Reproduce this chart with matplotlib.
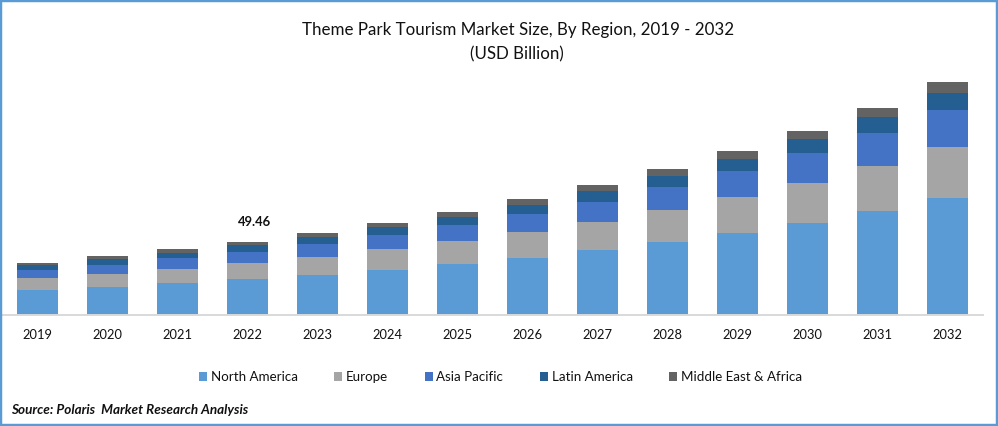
#!/usr/bin/env python3
"""Theme park tourism market size, stacked bars by region."""

import matplotlib

matplotlib.use("Agg")
import matplotlib.pyplot as plt
import numpy as np
from matplotlib.patches import Rectangle

years = ["2019", "2020", "2021", "2022", "2023", "2024", "2025",
         "2026", "2027", "2028", "2029", "2030", "2031", "2032"]
regions = ["North America", "Europe", "Asia Pacific", "Latin America", "Middle East & Africa"]

north_america = [16.94, 18.97, 21.68, 24.39, 27.10, 30.49, 34.55, 38.62, 44.04, 49.46, 55.56, 62.33, 70.46, 79.27]
europe = [8.13, 8.81, 9.49, 10.84, 12.20, 14.23, 15.58, 17.62, 18.97, 21.68, 24.39, 27.10, 30.49, 34.55]
asia_pacific = [5.42, 6.10, 7.45, 7.45, 8.81, 9.49, 10.84, 12.20, 13.55, 15.58, 17.62, 20.33, 22.36, 25.07]
latin_america = [3.39, 4.07, 3.39, 4.74, 4.74, 5.42, 5.42, 6.10, 7.45, 7.45, 8.13, 9.49, 10.84, 11.52]
middle_east_africa = [1.36, 2.03, 2.71, 2.04, 2.71, 2.71, 3.39, 4.07, 4.07, 4.74, 5.42, 5.42, 6.10, 7.45]

series = [north_america, europe, asia_pacific, latin_america, middle_east_africa]
colors = ["#5B9BD5", "#A5A5A5", "#4472C4", "#255E91", "#636363"]

W, H = 998, 426
plt.rcParams["font.family"] = ["Lato", "DejaVu Sans"]

fig = plt.figure(figsize=(W / 100, H / 100), dpi=100)
ax = fig.add_axes([2.5 / W, 1 - 315 / H, 980 / W, 245 / H])

x = np.arange(len(years))
bottom = np.zeros(len(years))
for values, color, label in zip(series, colors, regions):
    ax.bar(x, values, 0.586, bottom=bottom, color=color, label=label, linewidth=0)
    bottom += np.array(values)

ax.set_xlim(-0.5, len(years) - 0.5)
ax.set_ylim(0, 245 * 49.46 / 73)
ax.set_xticks(x, years)
ax.tick_params(axis="x", length=0, pad=10, labelsize=9.3, colors="#111111")
ax.set_yticks([])
for side in ["top", "left", "right"]:
    ax.spines[side].set_visible(False)
ax.spines["bottom"].set_color("#D9D9D9")
ax.spines["bottom"].set_linewidth(1.4)

ax.text(3.1, bottom[3] + 13.5, "49.46", ha="center", va="center",
        fontsize=9.4, fontweight="bold", color="#111111")

fig.text(518 / W, 1 - 30 / H, "Theme Park Tourism Market Size, By Region, 2019 - 2032",
         ha="center", va="center", fontsize=12.15, color="#111111")
fig.text(517 / W, 1 - 54 / H, "(USD Billion)", ha="center", va="center",
         fontsize=12.15, color="#111111")
fig.text(11 / W, 1 - 410 / H, "Source: Polaris  Market Research Analysis", ha="left", va="center",
         fontsize=9.75, fontweight="bold", style="italic", color="#111111")

fig.legend(loc="center", bbox_to_anchor=(500.5 / W, 1 - 377 / H), ncol=5, frameon=False,
           fontsize=9.6, handlelength=0.6, handleheight=0.6, handletextpad=0.3,
           columnspacing=2.72, labelcolor="#111111")

fig.add_artist(Rectangle((0, 0), 1, 1, transform=fig.transFigure, fill=False,
                         edgecolor="#5B9BD5", linewidth=3.2))

fig.savefig("out.png", dpi=100)
